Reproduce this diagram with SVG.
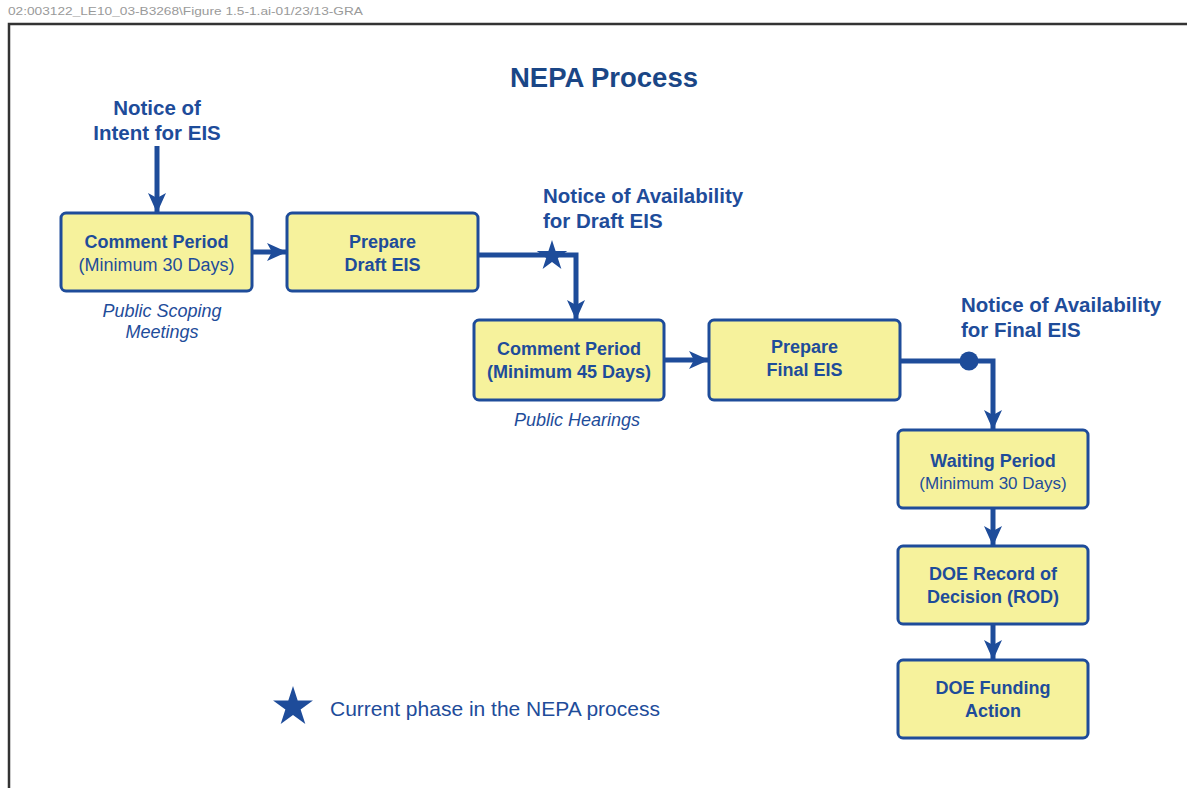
<svg xmlns="http://www.w3.org/2000/svg" xmlns:xlink="http://www.w3.org/1999/xlink" width="1187" height="788" viewBox="0 0 1187 788">
<style>
.box{fill:#f6f29c;stroke:#1e4c9a;stroke-width:3}
.conn{fill:none;stroke:#1e4c9a;stroke-width:5}
text{font-family:"Liberation Sans",Arial,sans-serif;fill:#1e4c9a}
.b{font-weight:bold;font-size:18px;text-anchor:middle}
.r{font-size:18px;text-anchor:middle}
.lbl{font-weight:bold;font-size:20.5px}
.it{font-style:italic;font-size:18px;text-anchor:middle}
</style>
<defs>
<marker id="ah" markerUnits="userSpaceOnUse" viewBox="0 0 20 20" refX="20" refY="10" markerWidth="20" markerHeight="20" orient="auto">
<path d="M0,1 L20,10 L0,19 L5,10 Z" fill="#1e4c9a"/>
</marker>
<polygon id="star" points="0,-16 3.59,-4.94 15.22,-4.94 5.81,1.89 9.4,12.94 0,6.11 -9.4,12.94 -5.81,1.89 -15.22,-4.94 -3.59,-4.94" fill="#1e4c9a"/>
</defs>
<rect width="1187" height="788" fill="#ffffff"/>
<text x="8" y="15" font-size="11.5" textLength="355" lengthAdjust="spacingAndGlyphs" style="fill:#9a9a9a">02:003122_LE10_03-B3268\Figure 1.5-1.ai-01/23/13-GRA</text>
<path d="M9,788 V24 H1187" fill="none" stroke="#333333" stroke-width="2.5"/>
<text x="604" y="87" style="font-weight:bold;font-size:27.5px;text-anchor:middle;fill:#1a4686">NEPA Process</text>

<g id="connectors">
<path class="conn" d="M157,146 V213" marker-end="url(#ah)"/>
<path class="conn" d="M252,252 H287" marker-end="url(#ah)"/>
<path class="conn" d="M478,255 H576 V320" marker-end="url(#ah)"/>
<path class="conn" d="M664,360 H709" marker-end="url(#ah)"/>
<path class="conn" d="M900,361 H993 V430" marker-end="url(#ah)"/>
<path class="conn" d="M993,508 V546" marker-end="url(#ah)"/>
<path class="conn" d="M993,624 V660" marker-end="url(#ah)"/>
</g>

<g id="notice-intent">
<text class="lbl" x="157" y="115" text-anchor="middle">Notice of</text>
<text class="lbl" x="157" y="140" text-anchor="middle">Intent for EIS</text>
</g>

<g id="comment-30">
<rect class="box" x="61" y="213" width="191" height="78" rx="5"/>
<text class="b" x="156.5" y="248">Comment Period</text>
<text class="r" x="156.5" y="271">(Minimum 30 Days)</text>
</g>
<g id="scoping-label">
<text class="it" x="162" y="317">Public Scoping</text>
<text class="it" x="162" y="338">Meetings</text>
</g>

<g id="prepare-draft">
<rect class="box" x="287" y="213" width="191" height="78" rx="5"/>
<text class="b" x="382.5" y="248">Prepare</text>
<text class="b" x="382.5" y="271">Draft EIS</text>
</g>

<g id="notice-draft">
<text class="lbl" x="543" y="203">Notice of Availability</text>
<text class="lbl" x="543" y="228">for Draft EIS</text>
<use xlink:href="#star" href="#star" transform="translate(552,256)"/>
</g>

<g id="comment-45">
<rect class="box" x="474" y="320" width="190" height="80" rx="5"/>
<text class="b" x="569" y="355">Comment Period</text>
<text class="b" x="569" y="378">(Minimum 45 Days)</text>
</g>
<g id="hearings-label">
<text class="it" x="577" y="426">Public Hearings</text>
</g>

<g id="prepare-final">
<rect class="box" x="709" y="320" width="191" height="80" rx="5"/>
<text class="b" x="804.5" y="353">Prepare</text>
<text class="b" x="804.5" y="376">Final EIS</text>
</g>

<g id="notice-final">
<text class="lbl" x="961" y="312">Notice of Availability</text>
<text class="lbl" x="961" y="337">for Final EIS</text>
<circle cx="969" cy="361" r="9.5" fill="#1e4c9a"/>
</g>

<g id="waiting">
<rect class="box" x="898" y="430" width="190" height="78" rx="5"/>
<text class="b" x="993" y="467">Waiting Period</text>
<text class="r" x="993" y="489" style="font-size:17px">(Minimum 30 Days)</text>
</g>

<g id="rod">
<rect class="box" x="898" y="546" width="190" height="78" rx="5"/>
<text class="b" x="993" y="580">DOE Record of</text>
<text class="b" x="993" y="603">Decision (ROD)</text>
</g>

<g id="funding">
<rect class="box" x="898" y="660" width="190" height="78" rx="5"/>
<text class="b" x="993" y="694">DOE Funding</text>
<text class="b" x="993" y="717">Action</text>
</g>

<g id="legend">
<use xlink:href="#star" href="#star" transform="translate(293,707) scale(1.31)"/>
<text x="330" y="716" style="font-size:21px">Current phase in the NEPA process</text>
</g>
</svg>
